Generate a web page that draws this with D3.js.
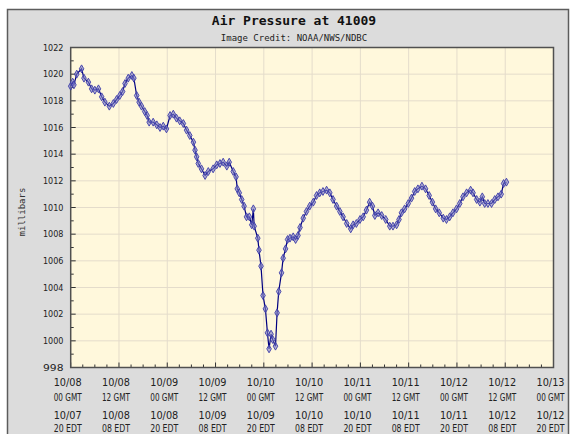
<!DOCTYPE html>
<html><head><meta charset="utf-8">
<script src="https://cdn.jsdelivr.net/npm/d3@7"></script>
<style>html,body{margin:0;padding:0;background:#fff;}svg{display:block;}</style>
</head><body>
<svg id="chart" width="574" height="434"></svg>
<script>
// Hours since 10/08 00 GMT
const hours = [0.0,0.5,0.8,1.5,2.7,3.3,4.4,5.2,6.0,6.9,7.7,8.5,9.6,10.6,11.4,12.2,12.9,13.5,14.3,15.2,15.7,16.4,17.0,17.6,18.4,19.0,19.5,20.5,21.4,22.2,23.0,23.8,24.7,25.5,26.3,27.1,28.0,28.8,29.6,30.5,30.9,31.3,31.7,32.5,33.4,34.2,35.4,36.3,37.1,37.9,38.8,39.4,40.4,41.1,41.4,41.9,42.5,43.1,43.7,44.4,45.0,45.4,45.6,46.5,46.8,47.3,47.8,48.4,48.9,49.3,49.8,50.2,50.9,51.3,51.7,52.4,52.8,53.4,53.9,54.5,55.3,55.9,56.5,57.0,57.8,58.6,59.4,60.3,61.1,61.9,62.7,63.6,64.4,65.2,66.1,66.9,67.7,68.6,69.6,70.2,71.0,71.9,72.7,73.5,74.3,75.0,75.6,76.4,77.3,78.3,79.3,80.1,81.0,81.6,82.2,83.0,83.9,84.7,85.5,86.3,87.3,88.2,89.1,89.9,90.7,91.6,92.6,93.4,94.2,95.0,95.9,96.7,97.5,98.4,99.4,100.0,100.9,101.7,102.3,102.9,103.7,104.6,105.4,106.2,107.0,107.6,108.3];
const pressure = [1019.1,1019.4,1019.2,1020.0,1020.4,1019.7,1019.4,1018.9,1018.8,1018.9,1018.3,1017.9,1017.6,1017.8,1018.1,1018.4,1018.7,1019.3,1019.7,1019.9,1019.7,1018.4,1017.9,1017.6,1017.2,1016.9,1016.4,1016.4,1016.2,1016.0,1016.1,1015.9,1016.9,1017.0,1016.7,1016.5,1016.3,1015.8,1015.4,1014.9,1014.3,1013.8,1013.3,1012.9,1012.4,1012.7,1012.9,1013.2,1013.3,1013.4,1013.1,1013.4,1012.7,1012.3,1011.4,1011.1,1010.6,1010.1,1009.3,1009.3,1008.7,1009.9,1008.6,1007.7,1006.8,1005.6,1003.4,1002.4,1000.6,999.4,1000.5,1000.1,999.6,1002.1,1003.7,1005.1,1006.2,1006.9,1007.6,1007.7,1007.8,1007.6,1007.9,1008.5,1009.2,1009.7,1010.1,1010.4,1010.9,1011.1,1011.2,1011.3,1011.1,1010.6,1010.1,1009.7,1009.3,1008.8,1008.4,1008.7,1008.8,1009.1,1009.3,1009.8,1010.4,1010.1,1009.4,1009.6,1009.4,1009.1,1008.6,1008.6,1008.7,1009.1,1009.6,1009.9,1010.3,1010.7,1011.2,1011.4,1011.6,1011.4,1010.9,1010.4,1009.9,1009.6,1009.2,1009.1,1009.3,1009.6,1009.9,1010.3,1010.8,1011.1,1011.3,1011.1,1010.6,1010.4,1010.8,1010.3,1010.3,1010.3,1010.6,1010.8,1011.0,1011.8,1011.9];
const yTicks = [998,1000,1002,1004,1006,1008,1010,1012,1014,1016,1018,1020,1022];
const xTickHours = [0,12,24,36,48,60,72,84,96,108,120];
const gmtLabels = [["10/08","00 GMT"],["10/08","12 GMT"],["10/09","00 GMT"],["10/09","12 GMT"],["10/10","00 GMT"],["10/10","12 GMT"],["10/11","00 GMT"],["10/11","12 GMT"],["10/12","00 GMT"],["10/12","12 GMT"],["10/13","00 GMT"]];
const edtLabels = [["10/07","20 EDT"],["10/08","08 EDT"],["10/08","20 EDT"],["10/09","08 EDT"],["10/09","20 EDT"],["10/10","08 EDT"],["10/10","20 EDT"],["10/11","08 EDT"],["10/11","20 EDT"],["10/12","08 EDT"],["10/12","20 EDT"]];
const titleText = "Air Pressure at 41009";
const creditText = "Image Credit: NOAA/NWS/NDBC";
const yTitle = "millibars";

const svg = d3.select("#chart");
const L = 70.7, R = 553.5, T = 47.5, B = 367.5;
const x = d3.scaleLinear().domain([0,120]).range([L,R]);
const y = d3.scaleLinear().domain([998,1022]).range([B,T]);

// outer frame
svg.append("rect").attr("x",7.5).attr("y",9.5).attr("width",561).attr("height",440)
  .attr("fill","#dcdcdc").attr("stroke","#5c5c5c").attr("stroke-width",1.5);

// plot background
svg.append("rect").attr("x",L).attr("y",T).attr("width",R-L).attr("height",B-T).attr("fill","#fff8dc");

// grid
const g = svg.append("g");
g.selectAll("line.hg").data(yTicks.slice(1,-1)).join("line")
  .attr("x1",L).attr("x2",R).attr("y1",d=>y(d)).attr("y2",d=>y(d))
  .attr("stroke","#e4dccb").attr("stroke-width",1);
g.selectAll("line.vg").data(xTickHours.slice(1,-1)).join("line")
  .attr("x1",d=>x(d)).attr("x2",d=>x(d)).attr("y1",T).attr("y2",B)
  .attr("stroke","#e4dccb").attr("stroke-width",1);

// ticks (inside)
const minorY = d3.range(999,1022,2);
g.selectAll("line.my").data(minorY).join("line")
  .attr("x1",L).attr("x2",L+3).attr("y1",d=>y(d)).attr("y2",d=>y(d)).attr("stroke","#333");
g.selectAll("line.My").data(yTicks).join("line")
  .attr("x1",L).attr("x2",L+5).attr("y1",d=>y(d)).attr("y2",d=>y(d)).attr("stroke","#333");
const minorX = d3.range(3,120,3).filter(h=>h%12!==0);
g.selectAll("line.mx").data(minorX).join("line")
  .attr("x1",d=>x(d)).attr("x2",d=>x(d)).attr("y1",B).attr("y2",B-3).attr("stroke","#333");
g.selectAll("line.Mx").data(xTickHours).join("line")
  .attr("x1",d=>x(d)).attr("x2",d=>x(d)).attr("y1",B).attr("y2",B-5).attr("stroke","#333");

// plot border
svg.append("rect").attr("x",L).attr("y",T).attr("width",R-L).attr("height",B-T)
  .attr("fill","none").attr("stroke","#505050").attr("stroke-width",1.5);

// data line
const pts = hours.map((h,i)=>[h,pressure[i]]);
svg.append("path").datum(pts)
  .attr("d", d3.line().x(d=>x(d[0])).y(d=>y(d[1])))
  .attr("fill","none").attr("stroke","#000080").attr("stroke-width",1.2);
const sym = d3.symbol().type(d3.symbolDiamond).size(18);
svg.append("g").selectAll("path").data(pts).join("path")
  .attr("transform",d=>`translate(${x(d[0])},${y(d[1])})`)
  .attr("d",sym).attr("fill","#8080c8").attr("fill-opacity",0.6)
  .attr("stroke","#3a3aa8").attr("stroke-width",0.9);

// y labels
const font = "DejaVu Sans, Verdana, sans-serif";
svg.append("g").selectAll("text").data(yTicks).join("text")
  .attr("x",63.5).attr("y",d=>y(d)+3.2).attr("text-anchor","end")
  .attr("font-family",font).attr("font-size",9).attr("fill","#222")
  .attr("textLength",20.5).attr("lengthAdjust","spacingAndGlyphs")
  .text(d=>d);

// x labels
function labelRow(arr, y1, y2){
  const gg = svg.append("g").attr("font-family",font).attr("font-size",10).attr("fill","#222");
  arr.forEach((l,i)=>{
    const cx = x(xTickHours[i]) - 3;
    gg.append("text").attr("x",cx).attr("y",y1).attr("text-anchor","middle")
      .attr("textLength",28).attr("lengthAdjust","spacingAndGlyphs").text(l[0]);
    gg.append("text").attr("x",cx).attr("y",y2).attr("text-anchor","middle")
      .attr("textLength",28).attr("lengthAdjust","spacingAndGlyphs").text(l[1]);
  });
}
labelRow(gmtLabels, 385.5, 400.5);
labelRow(edtLabels, 418.5, 432);

// titles
svg.append("text").attr("x",294).attr("y",25).attr("text-anchor","middle")
  .attr("font-family","DejaVu Sans Mono, monospace").attr("font-weight","bold")
  .attr("font-size",13).attr("fill","#111").text(titleText);
svg.append("text").attr("x",294).attr("y",40.5).attr("text-anchor","middle")
  .attr("font-family","DejaVu Sans Mono, monospace")
  .attr("font-size",9).attr("fill","#222").text(creditText);
svg.append("text").attr("transform","translate(25,212) rotate(-90)").attr("text-anchor","middle")
  .attr("font-family","DejaVu Sans Mono, monospace")
  .attr("font-size",9).attr("fill","#333").text(yTitle);
</script>
</body></html>
